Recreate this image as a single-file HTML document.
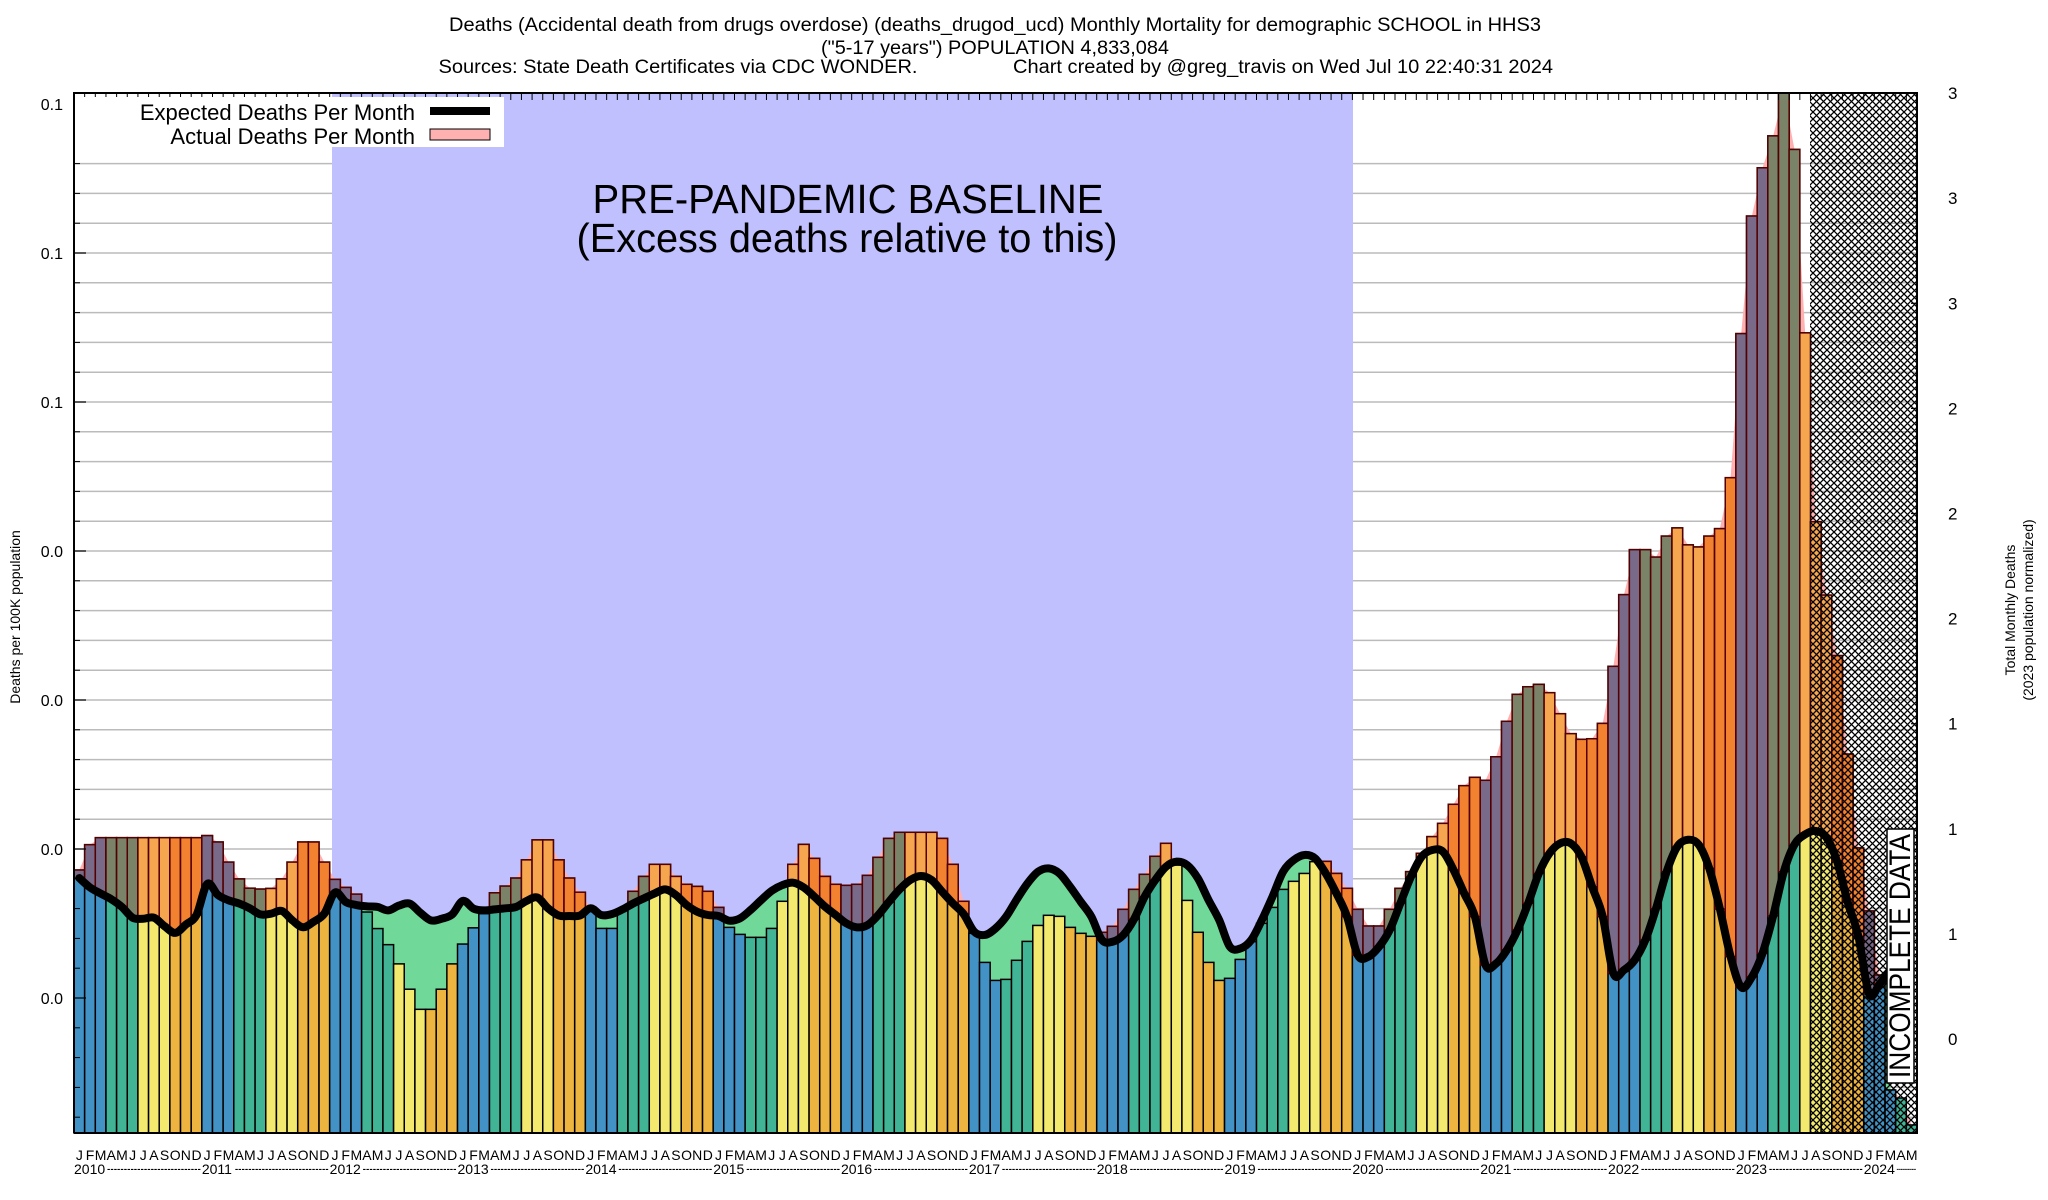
<!DOCTYPE html>
<html><head><meta charset="utf-8"><style>
html,body{margin:0;padding:0;background:#fff;}
svg{display:block;font-family:"Liberation Sans",sans-serif;}
</style></head><body>
<svg id="chart" width="2048" height="1200" viewBox="0 0 2048 1200" xmlns="http://www.w3.org/2000/svg">
<defs>
<pattern id="hatch" patternUnits="userSpaceOnUse" width="7" height="7">
<path d="M0,0 L7,7 M7,0 L0,7" stroke="#000" stroke-width="1.3" fill="none"/>
</pattern>
</defs>
<g id="titles" font-size="19" text-anchor="middle">
<text x="995" y="31" textLength="1092" lengthAdjust="spacingAndGlyphs">Deaths (Accidental death from drugs overdose) (deaths_drugod_ucd) Monthly Mortality for demographic SCHOOL in HHS3</text>
<text x="995" y="54" textLength="348" lengthAdjust="spacingAndGlyphs">("5-17 years") POPULATION 4,833,084</text>
<text x="678" y="73" textLength="479" lengthAdjust="spacingAndGlyphs">Sources: State Death Certificates via CDC WONDER.</text>
<text x="1283" y="73" textLength="540" lengthAdjust="spacingAndGlyphs">Chart created by @greg_travis on Wed Jul 10 22:40:31 2024</text>
</g>
<g id="grid"></g>
<rect x="332" y="93" width="1021" height="1040" fill="#c0c0ff"/>
<text x="848" y="213" font-size="41" text-anchor="middle" textLength="511" lengthAdjust="spacingAndGlyphs">PRE-PANDEMIC BASELINE</text>
<text x="847" y="252" font-size="41" text-anchor="middle" textLength="541" lengthAdjust="spacingAndGlyphs">(Excess deaths relative to this)</text>
<g id="areas"></g>
<g id="bars"></g>
<g id="line"></g>
<rect x="1810" y="93" width="107" height="1040" fill="url(#hatch)"/>
<g id="axes"></g>
<g>
<rect x="1887" y="829" width="27" height="254" fill="#fff" stroke="#000" stroke-width="1.5"/>
<text x="1910" y="956" font-size="30" text-anchor="middle" transform="rotate(-90 1910 956)" textLength="244" lengthAdjust="spacingAndGlyphs">INCOMPLETE DATA</text>
</g>
<g>
<rect x="75" y="97" width="429" height="50" fill="#fff"/>
<text x="415" y="120" font-size="22" text-anchor="end">Expected Deaths Per Month</text>
<rect x="430" y="107" width="60" height="8" fill="#000"/>
<text x="415" y="144" font-size="22" text-anchor="end">Actual Deaths Per Month</text>
<rect x="430" y="129" width="60" height="11" fill="#ffb0b0" stroke="#000" stroke-width="1"/>
</g>
<text x="20" y="617" font-size="14" text-anchor="middle" transform="rotate(-90 20 617)">Deaths per 100K population</text>
<text x="2015" y="610" font-size="14" text-anchor="middle" transform="rotate(-90 2015 610)">Total Monthly Deaths</text>
<text x="2033" y="610" font-size="14" text-anchor="middle" transform="rotate(-90 2033 610)">(2023 population normalized)</text>
</svg>
<script>
const startYear = 2010;
const monthLetters = ["J","F","M","A","M","J","J","A","S","O","N","D"];
const actual = [
0.02359,0.02529,0.02576,0.02576,0.02576,0.02576,0.02576,0.02576,0.02576,0.02576,0.02576,0.02576,
0.02590,0.02547,0.02412,0.02299,0.02237,0.02231,0.02235,0.02299,0.02412,0.02547,0.02547,0.02412,
0.02296,0.02242,0.02197,0.02077,0.01966,0.01858,0.01729,0.01559,0.01424,0.01424,0.01559,0.01729,
0.01862,0.01971,0.02066,0.02206,0.02251,0.02305,0.02427,0.02561,0.02561,0.02427,0.02305,0.02210,
0.02108,0.01967,0.01967,0.02090,0.02216,0.02316,0.02397,0.02397,0.02316,0.02263,0.02249,0.02216,
0.02108,0.01974,0.01927,0.01907,0.01907,0.01967,0.02149,0.02397,0.02531,0.02437,0.02316,0.02263,
0.02256,0.02263,0.02323,0.02444,0.02571,0.02612,0.02612,0.02612,0.02612,0.02571,0.02397,0.02149,
0.01934,0.01739,0.01618,0.01625,0.01753,0.01880,0.01987,0.02055,0.02048,0.01974,0.01934,0.01914,
0.01941,0.01981,0.02095,0.02229,0.02330,0.02451,0.02538,0.02392,0.02155,0.01941,0.01739,0.01618,
0.01632,0.01759,0.01878,0.02001,0.02108,0.02229,0.02283,0.02336,0.02415,0.02417,0.02336,0.02236,
0.02095,0.01983,0.01983,0.02095,0.02236,0.02348,0.02471,0.02583,0.02672,0.02800,0.02925,0.02981,
0.02961,0.03119,0.03357,0.03538,0.03589,0.03605,0.03549,0.03408,0.03274,0.03236,0.03240,0.03343,
0.03726,0.04207,0.04509,0.04509,0.04459,0.04600,0.04655,0.04541,0.04527,0.04600,0.04650,0.04992,
0.05959,0.06748,0.07072,0.07286,0.07600,0.07195,0.05964,0.04696,0.04204,0.03798,0.03137,0.02507,
0.02084,0.01654,0.00883,0.00829,0.00648];
const expected = [
0.02305,0.02242,0.02201,0.02163,0.02111,0.02039,0.02032,0.02039,0.01982,0.01937,0.01993,0.02057,
0.02265,0.02192,0.02156,0.02134,0.02102,0.02061,0.02066,0.02084,0.02021,0.01975,0.02012,0.02066,
0.02208,0.02145,0.02124,0.02115,0.02111,0.02088,0.02120,0.02134,0.02073,0.02021,0.02032,0.02061,
0.02152,0.02100,0.02088,0.02095,0.02102,0.02111,0.02152,0.02174,0.02102,0.02054,0.02050,0.02054,
0.02102,0.02057,0.02064,0.02095,0.02135,0.02169,0.02202,0.02229,0.02191,0.02124,0.02079,0.02057,
0.02050,0.02019,0.02034,0.02090,0.02157,0.02220,0.02258,0.02274,0.02242,0.02180,0.02113,0.02057,
0.02001,0.01974,0.01990,0.02057,0.02146,0.02229,0.02292,0.02319,0.02292,0.02213,0.02135,0.02064,
0.01945,0.01923,0.01967,0.02046,0.02162,0.02269,0.02348,0.02370,0.02336,0.02247,0.02146,0.02046,
0.01889,0.01878,0.01923,0.02028,0.02180,0.02292,0.02381,0.02415,0.02392,0.02303,0.02157,0.02023,
0.01844,0.01833,0.01889,0.02023,0.02180,0.02348,0.02426,0.02460,0.02437,0.02336,0.02202,0.02046,
0.01788,0.01777,0.01844,0.01956,0.02135,0.02314,0.02448,0.02493,0.02482,0.02359,0.02202,0.02046,
0.01721,0.01732,0.01822,0.01956,0.02135,0.02336,0.02471,0.02538,0.02538,0.02448,0.02247,0.02046,
0.01665,0.01688,0.01755,0.01889,0.02100,0.02348,0.02516,0.02562,0.02530,0.02370,0.02097,0.01778,
0.01572,0.01641,0.01800,0.02051,0.02348,0.02530,0.02598,0.02621,0.02576,0.02416,0.02142,0.01914,
0.01527,0.01595,0.01686];
const leftTickValues = [0.015,0.025,0.035,0.045,0.055,0.065,0.075];
const leftTickLabels = ["0.0","0.0","0.0","0.0","0.1","0.1","0.1"];
const rightTickValues = [0,1,2,3,4,5,6,7,8,9];
const rightTickLabels = ["0","1","1","1","2","2","2","3","3","3"];

const NS = "http://www.w3.org/2000/svg";
const X0 = 74, X1 = 1917, YT = 93, YB = 1133;
const NM = 173;
const MW = (X1 - X0) / NM;
function xScale(i){ return X0 + i * MW; }
function yScale(v){ return 998 - (v - 0.015) / 0.01 * 149; }
function rScale(d){ return 1039 - d * 105.1; }
function mk(tag, attrs, parent){
  const e = document.createElementNS(NS, tag);
  for (const k in attrs) e.setAttribute(k, attrs[k]);
  parent.appendChild(e);
  return e;
}
const baseColors = ["#4292c6","#41b496","#f3e96f","#edb440"];
const excessColors = ["#7a6a8a","#7a8268","#f7a650","#f28130"];

const grid = document.getElementById("grid");
for (let y = 104 + 29.8 * 2; y < YB - 5; y += 29.8) {
  const g = mk("line", {x1:X0, x2:X1, y1:y, y2:y, stroke:"#bbbbbb", "stroke-width":1.5}, grid);
  
  
}

function smoothPts(pts){
  let d = "M" + pts[0][0] + "," + pts[0][1];
  for (let i = 0; i < pts.length - 1; i++) {
    const p0 = pts[Math.max(0,i-1)], p1 = pts[i], p2 = pts[i+1], p3 = pts[Math.min(pts.length-1,i+2)];
    const c1x = p1[0] + (p2[0]-p0[0])/6, c1y = p1[1] + (p2[1]-p0[1])/6;
    const c2x = p2[0] - (p3[0]-p1[0])/6, c2y = p2[1] - (p3[1]-p1[1])/6;
    d += " C" + c1x + "," + c1y + " " + c2x + "," + c2y + " " + p2[0] + "," + p2[1];
  }
  return d;
}
const areas = document.getElementById("areas");
const aPts = actual.map((v,i)=>[xScale(i+0.5), Math.max(YT, yScale(v))]);
let ad = "M" + X0 + "," + YB + " L" + X0 + "," + aPts[0][1];
aPts.forEach(p => ad += " L" + p[0] + "," + p[1]);
ad += " L" + X1 + "," + aPts[aPts.length-1][1] + " L" + X1 + "," + YB + " Z";
const pink = mk("path", {d:ad, fill:"#ffb0b0"}, areas);


const ePts = expected.map((v,i)=>[xScale(i+0.5), yScale(v)]);
const ed = smoothPts(ePts);
const green = mk("path", {d: ed + " L" + ePts[ePts.length-1][0] + "," + YB + " L" + ePts[0][0] + "," + YB + " Z", fill:"#70d898"}, areas);



const bars = document.getElementById("bars");
actual.forEach((v,i)=>{
  const q = Math.floor((i % 12) / 3);
  const x = xScale(i), ya = Math.max(YT, yScale(v));
  const r = mk("rect", {x:x, y:ya, width:MW, height:YB-ya, fill:baseColors[q], stroke:"#000", "stroke-width":1.5}, bars);
  
  
  if (i < expected.length && v > expected[i]) {
    const ye = yScale(expected[i]);
    const ex = mk("rect", {x:x, y:ya, width:MW, height:ye-ya, fill:excessColors[q], stroke:"#500", "stroke-width":1.5}, bars);
    
    
  }
});

const lineG = document.getElementById("line");
const ln = mk("path", {d:ed, fill:"none", stroke:"#000", "stroke-width":8, "stroke-linejoin":"round", "stroke-linecap":"round"}, lineG);



const axes = document.getElementById("axes");
const frame = mk("path", {d:"M"+X0+","+YB+" L"+X0+","+YT+" L"+X1+","+YT+" L"+X1+","+YB+" L"+X0+","+YB, fill:"none", stroke:"#000", "stroke-width":2}, axes);


for (let y = 104; y < YB; y += 29.8) {
  const t = mk("line", {x1:X0, x2:X0+6, y1:y, y2:y, stroke:"#000", "stroke-width":1}, axes);
  
  
}
leftTickValues.forEach((v,k)=>{
  const y = yScale(v);
  const t = mk("line", {x1:X0, x2:X0+12, y1:y, y2:y, stroke:"#000", "stroke-width":1.2}, axes);
  
  
  const lb = mk("text", {x:63, y:y+6, "font-size":16, "text-anchor":"end"}, axes);
  lb.textContent = leftTickLabels[k];
  
  
});
rightTickValues.forEach((d,k)=>{
  const y = rScale(d);
  const t = mk("line", {x1:X1-6, x2:X1, y1:y, y2:y, stroke:"#000", "stroke-width":1.2}, axes);
  
  
  const lb = mk("text", {x:1948, y:y+6, "font-size":17}, axes);
  lb.textContent = rightTickLabels[k];
  
  
});
for (let i = 0; i <= NM; i++) {
  const x = xScale(i);
  const t = mk("line", {x1:x, x2:x, y1:YT, y2:YT+7, stroke:"#000", "stroke-width":1}, axes);
  
  
}
for (let i = 0; i < NM; i++) {
  const lb = mk("text", {x:xScale(i+0.5), y:1160, "font-size":14, "text-anchor":"middle"}, axes);
  lb.textContent = monthLetters[i % 12];
  
  
  if (i % 12 === 0) {
    const yl = mk("text", {x:xScale(i), y:1174, "font-size":14}, axes);
    yl.textContent = String(startYear + i / 12);
    
    
    const end = Math.min(xScale(i + 12), X1);
    const w = end - xScale(i) - 34;
    if (w > 10) {
      const dl = mk("text", {x:xScale(i)+33, y:1173, "font-size":14, textLength:w, lengthAdjust:"spacingAndGlyphs"}, axes);
      dl.textContent = "----------------------------";
      
      
    }
  }
}
</script>
</body></html>
